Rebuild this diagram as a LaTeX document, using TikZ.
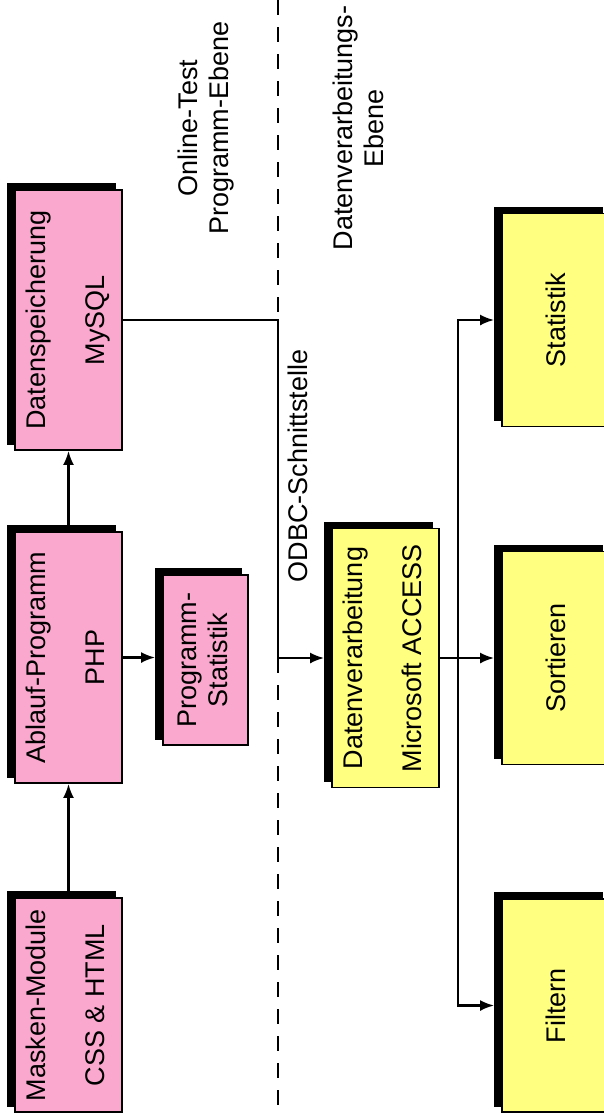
\documentclass[tikz,border=0pt]{standalone}
\usepackage{fontspec}
\setmainfont{Liberation Sans}
\usepackage{xcolor}
\usetikzlibrary{arrows.meta, shadows}

\definecolor{boxpink}{RGB}{250,168,206}
\definecolor{boxyellow}{RGB}{255,255,128}

\newcommand{\boxlines}[2]{\rotatebox{90}{\begin{tabular}{@{}c@{}}#1\\[14pt]#2\end{tabular}}}
\newcommand{\labellines}[2]{\rotatebox{90}{\begin{tabular}{@{}c@{}}#1\\#2\end{tabular}}}

\begin{document}
\begin{tikzpicture}[
	x = 0.5pt, y = -0.5pt, thick,
	every node/.style = {font = \fontsize{13.5}{15.5}\selectfont, inner sep = 0pt},
	box/.style = {draw, line width = 0.9pt, minimum width = 53.5pt,
		copy shadow = {shadow xshift = -3.5pt, shadow yshift = 3pt, fill = black, draw = black}},
	pinkbox/.style = {box, fill = boxpink},
	yellowbox/.style = {box, fill = boxyellow, minimum height = 106.5pt},
	arrow/.style = {-{Latex[length = 7pt, width = 5.5pt]}, line width = 1.1pt},
	layer/.style = {dash pattern = on 7.5pt off 6pt, line width = 0.7pt}
	]
	\useasboundingbox (0,0) rectangle (604,1115);
	
	% Programm-Ebene
	\node[pinkbox, minimum height = 107pt] (ms) at (68.5,1005) {\boxlines{Masken-Module}{CSS \& HTML}};
	\node[pinkbox, minimum height = 125.5pt] (ab) at (68.5,657.5) {\boxlines{Ablauf-Programm}{PHP}};
	\node[pinkbox, minimum height = 130pt] (ds) at (68.5,320) {\boxlines{Datenspeicherung}{MySQL}};
	\node[pinkbox, minimum width = 42.5pt, minimum height = 85pt] (ps) at (205.5,660) {\labellines{Programm-}{Statistik}};
	
	% Datenverarbeitungs-Ebene
	\node[box, fill = boxyellow, minimum height = 129.5pt] (dv) at (385.5,658) {\boxlines{Datenverarbeitung}{Microsoft ACCESS}};
	\node[yellowbox] (st) at (555.5,320) {\rotatebox{90}{Statistik}};
	\node[yellowbox] (so) at (555.5,658) {\rotatebox{90}{Sortieren}};
	\node[yellowbox] (fi) at (555.5,1005.5) {\rotatebox{90}{Filtern}};
	
	\node (online) at (207,128) {\labellines{Online-Test}{Programm-Ebene}};
	\node (daten) at (362,128) {\labellines{Datenverarbeitungs-}{Ebene}};
	\node[rotate = 90] (odbc) at (298,466) {ODBC-Schnittstelle};
	
	\coordinate (top) at (278,0);
	\coordinate (bot) at (278,1115);
	\coordinate (split) at (458,658);
	
	\draw[layer] (top) -- (ds.east -| top);
	\draw[layer] (dv.west -| top) -- (bot);
	
	\draw[arrow] (ms) -- (ab);
	\draw[arrow] (ab) -- (ds);
	\draw[arrow, shorten > = 3.5pt] (ab.east) -- (ab.east -| ps.west);
	\draw[arrow, shorten > = 3.5pt] (ds.east) -| (dv.west -| top) -- (dv.west);
	\draw[arrow, shorten > = 3.5pt] (dv.east) -- (so.west);
	\draw[arrow, shorten > = 3.5pt] (split) |- (st.west);
	\draw[arrow, shorten > = 3.5pt] (split) |- (fi.west);
\end{tikzpicture}
\end{document}
